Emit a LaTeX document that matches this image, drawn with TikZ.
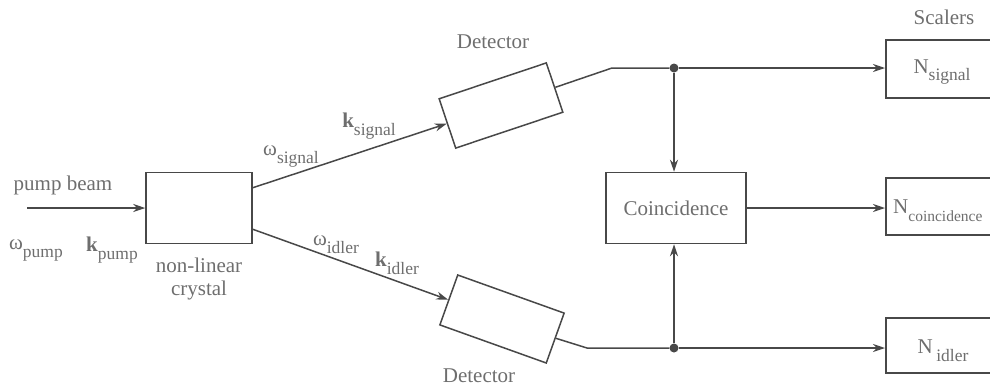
\documentclass[tikz,border=0pt]{standalone}
\usepackage{fontspec}
\setmainfont{Liberation Serif}
\usetikzlibrary{arrows.meta,calc}
\definecolor{linegray}{RGB}{72,72,72}
\definecolor{textgray}{RGB}{110,110,110}
% lowered, smaller index text
\newcommand\subtxt[2][17.5]{\raisebox{-0.38em}{\fontsize{#1}{#1}\selectfont #2}}

\begin{document}
\begin{tikzpicture}[x=1pt,y=-1pt,
  every node/.style={font=\fontsize{21}{23}\selectfont, text=textgray},
  box/.style={draw=linegray, line width=1.5pt, inner sep=0pt, fill=white},
  wire/.style={draw=linegray, line width=1.5pt},
  feed/.style={wire, -{Stealth[length=12pt,width=8pt]}},
  junction/.style={circle, fill=linegray, inner sep=0pt, minimum size=9pt},
  lbl/.style={inner sep=0pt, align=center}]

\useasboundingbox (0,0) rectangle (990,389);
\clip (0,0) rectangle (990,389);

% optical elements
\node[box, minimum width=106pt, minimum height=71pt] (crystal) at (199,208) {};
\node[box, minimum width=113pt, minimum height=52pt, rotate=18.5] (sigdet) at (501,105.5) {};
\node[box, minimum width=113pt, minimum height=53pt, rotate=-19.7] (idldet) at (502,319) {};

% electronics
\node[box, minimum width=140pt, minimum height=71pt] (coinc) at (676,208) {Coincidence};
\node[box, minimum width=140pt, minimum height=58pt, anchor=west] (nsig) at (885,69) {};
\node[box, minimum width=140pt, minimum height=57pt, anchor=west] (ncoinc) at (885,206.5) {};
\node[box, minimum width=140pt, minimum height=55pt, anchor=west] (nidl) at (885,345.5) {};

% pump beam into the crystal
\coordinate (pumpstart) at (27,208);
\draw[feed] (pumpstart) -- (crystal.west);

% signal and idler beams
\coordinate (cs) at ($(crystal.north east)+(0,16)$);
\coordinate (ci) at ($(crystal.south east)+(0,-15)$);
\draw[feed] (cs) -- (sigdet.west);
\draw[feed] (ci) -- (idldet.west);

% signal detector output
\coordinate (sbend) at (612,68);
\node[junction] (sdot) at (674,68) {};
\draw[wire] (sigdet.east) -- (sbend) -- (sdot);
\draw[feed] (sdot) -- (nsig.west |- sdot);
\draw[feed] (sdot) -- (coinc.north -| sdot);

% idler detector output
\coordinate (ibend) at (587,348);
\node[junction] (idot) at (674,348) {};
\draw[wire] (idldet.east) -- (ibend) -- (idot);
\draw[feed] (idot) -- (nidl.west |- idot);
\draw[feed] (idot) -- (coinc.south -| idot);

% coincidence counts
\draw[feed] (coinc.east) -- (ncoinc.west |- coinc.east);

% labels
\node[lbl] (tpump) at (63,185) {pump beam};
\node[lbl] (twp) at (36,250) {ω\subtxt{pump}};
\node[lbl] (tkp) at (112,250) {\textbf{k}\subtxt{pump}};
\node[lbl] (tcry) at (199,279) {non-linear\\crystal};
\node[lbl] (tws) at (291,156) {ω\subtxt{signal}};
\node[lbl] (tks) at (369,126) {\textbf{k}\subtxt{signal}};
\node[lbl] (twi) at (336,245) {ω\subtxt{idler}};
\node[lbl] (tki) at (397,263) {\textbf{k}\subtxt{idler}};
\node[lbl] (tdet1) at (493,42) {Detector};
\node[lbl] (tdet2) at (479,376) {Detector};
\node[lbl] (tscal) at (944,17) {Scalers};
\node[lbl] (tns) at (942,72) {N\subtxt{signal}};
\node[lbl, anchor=west] (tnc) at (893,211) {N\subtxt[15.5]{coincidence}};
\node[lbl] (tni) at (943,351) {N\,\subtxt{idler}};
\end{tikzpicture}
\end{document}
